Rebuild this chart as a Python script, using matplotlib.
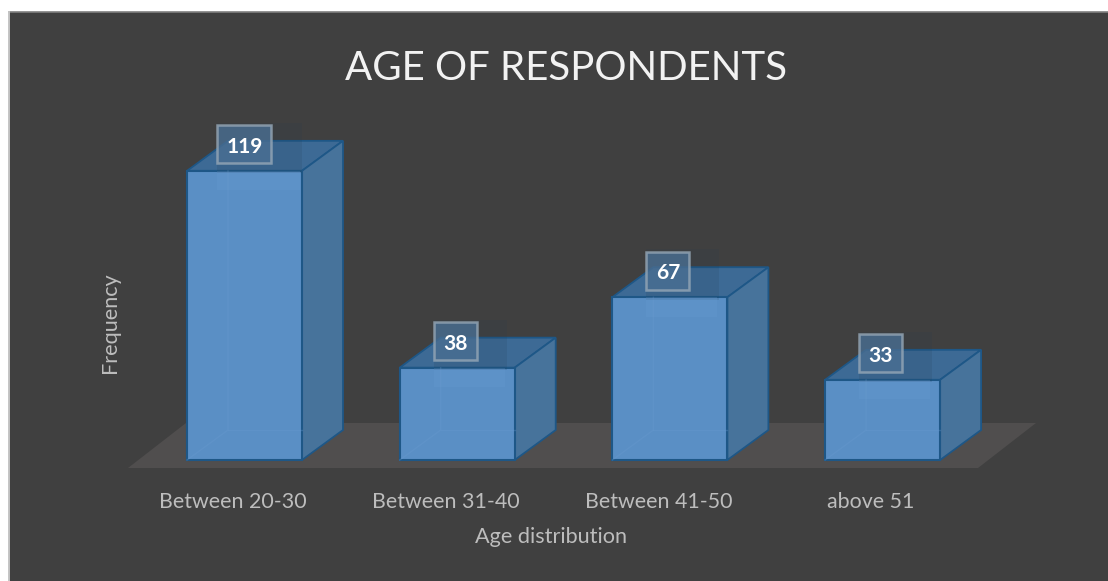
"""AGE OF RESPONDENTS: 3D style column chart drawn with flat polygons."""

import matplotlib

matplotlib.use("Agg")
import matplotlib.pyplot as plt
from matplotlib.patches import Polygon, Rectangle

categories = ["Between 20-30", "Between 31-40", "Between 41-50", "above 51"]
frequency = [119, 38, 67, 33]

W, H = 1108, 581
X_UNIT = 212.7  # px per category
Y_UNIT = 2.43  # px per frequency unit
X0_PX, Y0_PX = 244.5, 460  # where category 0 / frequency 0 fall

BAR_W = 115 / X_UNIT
DX = 41 / X_UNIT
DY = 30 / Y_UNIT

# 目盛ラベルは棒の中心から少し左にずれている
LABEL_SHIFT = -11.5 / X_UNIT
LABEL_BOX_H = 38 / Y_UNIT

BG = "#404040"
FRONT = "#5a8fc5"
SIDE = "#47739b"
TOP = "#3d6a95"
EDGE = "#1e5787"
TEXT = "#bdbdbd"

plt.rcParams["font.family"] = ["Lato", "DejaVu Sans"]

fig = plt.figure(figsize=(W / 100, H / 100), dpi=100, facecolor="white")
ax = fig.add_axes([0, 0, 1, 1])
ax.set_xlim(-X0_PX / X_UNIT, (W - X0_PX) / X_UNIT)
ax.set_ylim((Y0_PX - H) / Y_UNIT, Y0_PX / Y_UNIT)
ax.axis("off")


def px(x, y):
    """ピクセル位置をデータ座標に変換する。"""
    return (x - X0_PX) / X_UNIT, (Y0_PX - y) / Y_UNIT


# panel runs off the right and bottom of the image
x0, y0 = px(9, H + 5)
x1, y1 = px(W + 5, 12)
ax.add_patch(Rectangle((x0, y0), x1 - x0, y1 - y0, fc=BG, ec="none", zorder=1))
ax.plot([x0, x1], [y1, y1], color="#808080", lw=1.2, zorder=2)
ax.plot([x0, x0], [y0, y1], color="#c4c4c4", lw=1.4, zorder=2)

# floor
ax.add_patch(
    Polygon(
        [px(128, 468), px(186, 423), px(1036, 423), px(978, 468)],
        closed=True,
        fc="#504e4e",
        ec="none",
        zorder=2,
    )
)

for i, (name, v) in enumerate(zip(categories, frequency)):
    left = i - BAR_W / 2
    right = i + BAR_W / 2

    ax.add_patch(
        Polygon(
            [(left, v), (right, v), (right + DX, v + DY), (left + DX, v + DY)],
            closed=True, fc=TOP, ec=EDGE, lw=1.3, zorder=3,
        )
    )
    ax.add_patch(
        Polygon(
            [(right, 0), (right + DX, DY), (right + DX, v + DY), (right, v)],
            closed=True, fc=SIDE, ec=EDGE, lw=1.3, zorder=3,
        )
    )
    ax.add_patch(Rectangle((left, 0), BAR_W, v, fc=FRONT, ec=EDGE, lw=1.5, zorder=4))

    # back edges seen through the front face
    ax.plot([left, left + DX, left + DX], [0, DY, v], color="#6a9bd0", lw=1, alpha=0.3, zorder=5)
    ax.plot([left + DX, right], [DY, DY], color="#6a9bd0", lw=1, alpha=0.3, zorder=5)

    # soft shadow around the label
    box_w = (54 if v >= 100 else 43) / X_UNIT
    box_x = i - box_w / 2 - (0 if v >= 100 else 2 / X_UNIT)
    box_y = v + 26.5 / Y_UNIT - LABEL_BOX_H / 2
    ax.add_patch(
        Rectangle((box_x, v - 1), box_w + 30 / X_UNIT, LABEL_BOX_H + 5, fc="#243b52", ec="none", alpha=0.14, zorder=5)
    )
    ax.add_patch(
        Rectangle((box_x, v - 8), box_w + 28 / X_UNIT, 8, fc="#6c9fd3", ec="none", alpha=0.22, zorder=5)
    )
    ax.add_patch(
        Rectangle((box_x, box_y), box_w, LABEL_BOX_H, fc="#4a6f93", ec="#98a9b8", lw=1.8, alpha=0.78, zorder=6)
    )
    ax.text(
        box_x + box_w / 2, box_y + LABEL_BOX_H / 2 - 1, str(v),
        ha="center", va="center", color="white", fontsize=15, fontweight="bold", zorder=7,
    )

    ax.text(i + LABEL_SHIFT, px(0, 502)[1], name, ha="center", va="center", color=TEXT, fontsize=15.4, zorder=6)

ax.text(px(566, 0)[0], px(0, 68)[1], "AGE OF RESPONDENTS", ha="center", va="center", color="#f2f2f2", fontsize=29, zorder=6)
ax.text(px(551, 0)[0], px(0, 537)[1], "Age distribution", ha="center", va="center", color=TEXT, fontsize=15.6, zorder=6)
ax.text(px(110, 0)[0], px(0, 322.5)[1], "Frequency", ha="center", va="center", rotation=90, color=TEXT, fontsize=15.6, zorder=6)

fig.savefig("out.png", dpi=100, facecolor="white")
